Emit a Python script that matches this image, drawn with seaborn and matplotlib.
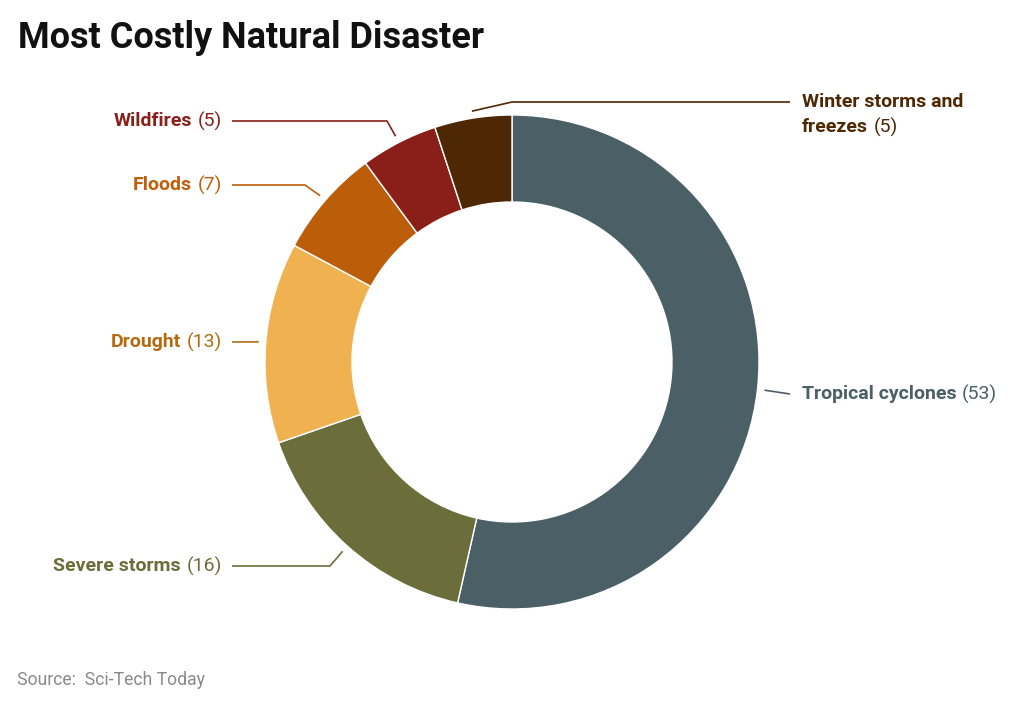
import numpy as np
import matplotlib
matplotlib.use("Agg")
import matplotlib.pyplot as plt
import seaborn as sns

# data
categories = ["Tropical cyclones", "Severe storms", "Drought", "Floods", "Wildfires", "Winter storms and\nfreezes"]
values = [53, 16, 13, 7, 5, 5]
slice_colors = ["#4a6066", "#6b6e3a", "#f0b250", "#bc5d0a", "#8a1f19", "#4e2804"]
text_colors = ["#4a6066", "#6b6e3a", "#b36b0f", "#bf5f0c", "#8a1f19", "#4e2804"]

sns.set_theme(style="white")
plt.rcParams["font.family"] = ["Roboto", "DejaVu Sans"]

W, H = 1023, 707
fig = plt.figure(figsize=(W / 100, H / 100), dpi=100)
ax = fig.add_axes([0, 0, 1, 1])

cx, cy = 512, H - 362
R = 247
wedges, _ = ax.pie(values, colors=slice_colors, startangle=90, counterclock=False,
                   center=(cx, cy), radius=R,
                   wedgeprops=dict(width=87, edgecolor="white", linewidth=1))
ax.set_xlim(0, W)
ax.set_ylim(0, H)
ax.set_aspect("auto")
ax.axis("off")

# label layout (pixel coords, y from top): side, text y, elbow x
layout = [
    ("right", 394, None),
    ("left", 566, 330),
    ("left", 342, None),
    ("left", 185, 305),
    ("left", 121, 387),
    ("right", 102, 512),
]

fs = 14
for w, name, val, col, (side, ty, ex) in zip(wedges, categories, values, text_colors, layout):
    ang = np.deg2rad((w.theta1 + w.theta2) / 2)
    ax_ = cx + (R + 7) * np.cos(ang)
    ay_ = cy + (R + 7) * np.sin(ang)
    ty_up = H - ty
    end_x = 232 if side == "left" else 790
    xs, ys = [ax_], [ay_]
    if ex is not None:
        xs.append(ex)
        ys.append(ty_up)
    xs.append(end_x)
    ys.append(ty_up)
    ax.plot(xs, ys, color=col, lw=1.2, solid_capstyle="butt")

    if side == "left":
        vt = ax.text(222, ty_up, f"({val})", ha="right", va="center", fontsize=fs, color=col)
        ax.annotate(name, xy=(0, 0.5), xycoords=vt, xytext=(-4, 0), textcoords="offset points",
                    ha="right", va="center", fontsize=fs, fontweight="bold", color=col)
    else:
        lines = name.split("\n")
        for i, ln in enumerate(lines):
            nt = ax.text(802, ty_up - i * 25, ln, ha="left", va="center", fontsize=fs,
                         fontweight="bold", color=col)
        ax.annotate(f"({val})", xy=(1, 0.5), xycoords=nt, xytext=(4, 0), textcoords="offset points",
                    ha="left", va="center", fontsize=fs, color=col)

fig.text(18 / W, 1 - 38 / H, "Most Costly Natural Disaster", ha="left", va="center",
         fontsize=26, fontweight="bold", color="#111111")
fig.text(17 / W, 1 - 680 / H, "Source:  Sci-Tech Today", ha="left", va="center",
         fontsize=12.7, color="#8a8a8a")

fig.savefig("out.png", dpi=100, facecolor="white")
